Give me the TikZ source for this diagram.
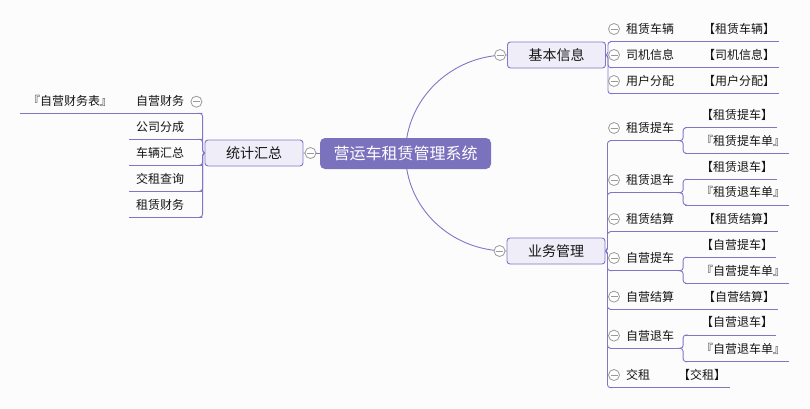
\documentclass[tikz,border=0pt]{standalone}
\usepackage{fontspec}
\newfontfamily\cjk{Noto Sans CJK SC}
\usetikzlibrary{backgrounds}
\definecolor{rootpurple}{HTML}{7B72BE}
\definecolor{topicfill}{HTML}{EFEEF8}
\definecolor{branchline}{HTML}{7F77C6}
\definecolor{foldgray}{HTML}{9A9A9A}
\definecolor{ink}{HTML}{151515}
\definecolor{paper}{HTML}{FCFCFD}

\begin{document}
\begin{tikzpicture}[
  x=1pt, y=-1pt,
  every node/.style={font=\cjk, text=ink},
  root/.style={fill=rootpurple, rounded corners=5pt, text=white,
    font=\cjk\fontsize{16}{18}\selectfont, minimum width=171, minimum height=31, inner sep=0},
  topic/.style={draw=branchline, fill=topicfill, rounded corners=3pt, line width=0.9,
    font=\cjk\fontsize{14}{16}\selectfont, minimum width=98, minimum height=26, inner sep=0},
  leaf/.style 2 args={anchor=south west, text width=#1, align=left, inner xsep=0, inner ysep=0,
    minimum height=25, font=\cjk\fontsize{12}{14}\selectfont,
    execute at begin node={\noindent\hspace*{#2}}},
  fold/.style={circle, draw=foldgray, fill=white, minimum size=11, inner sep=0, line width=0.8,
    path picture={\draw[foldgray, line width=0.8]
      ([xshift=-3.5pt]path picture bounding box.center) -- ([xshift=3.5pt]path picture bounding box.center);}},
  branch/.style={draw=branchline, line width=0.9, rounded corners=3pt},
  uline/.style={draw=branchline, line width=0.9},
]
\useasboundingbox (0,0) rectangle (810,408);

% ============ Topics ============
\node[root] (root) at (405.5,153.5) {营运车租赁管理系统};
\node[topic] (jbxx) at (556.5,55) {基本信息};
\node[topic] (ywgl) at (556,251) {业务管理};
\node[topic] (tjhz) at (254,153) {统计汇总};

% ============ Left: 统计汇总 ============
\foreach \n/\t [count=\i] in {zycw/自营财务, gsfc/公司分成, clhz/车辆汇总, jzcx/交租查询, zlcw/租赁财务} {
  \node[leaf={73pt}{7pt}] (\n) at (129,87.3+26*\i) {\t};
}
\node[leaf={109pt}{8pt}] (zycw-g) at (20,113.3) {『自营财务表』};

% ============ Right top: 基本信息 ============
\foreach \n/\t/\g [count=\i] in {zlcl/租赁车辆/【租赁车辆】, sjxx/司机信息/【司机信息】, yhfp/用户分配/【用户分配】} {
  \node[leaf={77pt}{16pt}] (\n) at (610,15.7+26*\i) {\t};
  \node[leaf={92pt}{16pt}] (\n-g) at (687,15.7+26*\i) {\g};
}

% ============ Right bottom: 业务管理 ============
\node[leaf={70.7pt}{16pt}] (zltc) at (610,140.7) {租赁提车};
\node[leaf={91.7pt}{16pt}] (zltc-a) at (685,127.7) {【租赁提车】};
\node[leaf={104pt}{16pt}] (zltc-b) at (685,153.3) {『租赁提车单』};

\node[leaf={70.7pt}{16pt}] (zlth) at (610,192.7) {租赁退车};
\node[leaf={91.7pt}{16pt}] (zlth-a) at (685,179.3) {【租赁退车】};
\node[leaf={104pt}{16pt}] (zlth-b) at (685,205) {『租赁退车单』};

\node[leaf={77pt}{16pt}] (zljs) at (610,231.7) {租赁结算};
\node[leaf={91pt}{16pt}] (zljs-g) at (687,231.7) {【租赁结算】};

\node[leaf={70.7pt}{16pt}] (zytc) at (610,270.7) {自营提车};
\node[leaf={91pt}{16pt}] (zytc-a) at (685,257.3) {【自营提车】};
\node[leaf={104pt}{16pt}] (zytc-b) at (685,283.3) {『自营提车单』};

\node[leaf={77pt}{16pt}] (zyjs) at (610,309.3) {自营结算};
\node[leaf={91pt}{16pt}] (zyjs-g) at (687,309.3) {【自营结算】};

\node[leaf={70.7pt}{16pt}] (zyth) at (610,348.3) {自营退车};
\node[leaf={91pt}{16pt}] (zyth-a) at (685,335) {【自营退车】};
\node[leaf={104pt}{16pt}] (zyth-b) at (685,361.7) {『自营退车单』};

\node[leaf={52pt}{16pt}] (jz) at (610,387.7) {交租};
\node[leaf={68pt}{16pt}] (jz-g) at (662,387.7) {【交租】};

% ============ Fold buttons ============
\node[fold] (f-jbxx) at ([xshift=-7pt]jbxx.west) {};
\node[fold] (f-ywgl) at ([xshift=-7pt]ywgl.west) {};
\node[fold] (f-tjhz) at ([xshift=7pt]tjhz.east) {};
\node[fold] (f-zycw) at ([xshift=-6pt,yshift=11.6pt]zycw.south east) {};
\foreach \c in {zlcl,sjxx,yhfp,zltc,zlth,zljs,zytc,zyjs,zyth,jz} {
  \node[fold] (f-\c) at ([xshift=4pt,yshift=12.7pt]\c.south west) {};
}

% ============ Connectors ============
\begin{scope}[on background layer]
  \fill[paper] (0,0) rectangle (810,408);

  % main branches
  \draw[branch] (root.center) .. controls +(0,-54) and +(-56,0) .. (jbxx.west);
  \draw[branch] (root.center) .. controls +(0,54) and +(-56,0) .. (ywgl.west);
  \draw[branch] (tjhz.east) -- (root.west);

  % sub branches
  \foreach \c in {zycw,gsfc,clhz,jzcx,zlcw}
    \draw[branch] (tjhz.west) -- ++(-2,0) |- (\c.south east);
  \foreach \c in {zlcl,sjxx,yhfp}
    \draw[branch] (jbxx.east) -- ++(2,0) |- (\c.south west);
  \foreach \c in {zltc,zlth,zljs,zytc,zyjs,zyth,jz}
    \draw[branch] (ywgl.east) -- ++(2,0) |- (\c.south west);
  \foreach \p in {zltc,zlth,zytc,zyth} {
    \draw[branch] (\p.south east) -- ++(2,0) |- (\p-a.south west);
    \draw[branch] (\p.south east) -- ++(2,0) |- (\p-b.south west);
  }
  \foreach \p in {zlcl,sjxx,yhfp,zljs,zyjs,jz}
    \draw[uline] (\p.south east) -- (\p-g.south west);
  \draw[uline] (zycw.south west) -- (zycw-g.south east);

  % underlines
  \foreach \n in {zycw,gsfc,clhz,jzcx,zlcw,zycw-g,zlcl,sjxx,yhfp,zlcl-g,sjxx-g,yhfp-g,
      zltc,zltc-a,zltc-b,zlth,zlth-a,zlth-b,zljs,zljs-g,zytc,zytc-a,zytc-b,
      zyjs,zyjs-g,zyth,zyth-a,zyth-b,jz,jz-g}
    \draw[uline] (\n.south west) -- (\n.south east);
\end{scope}

\end{tikzpicture}
\end{document}
